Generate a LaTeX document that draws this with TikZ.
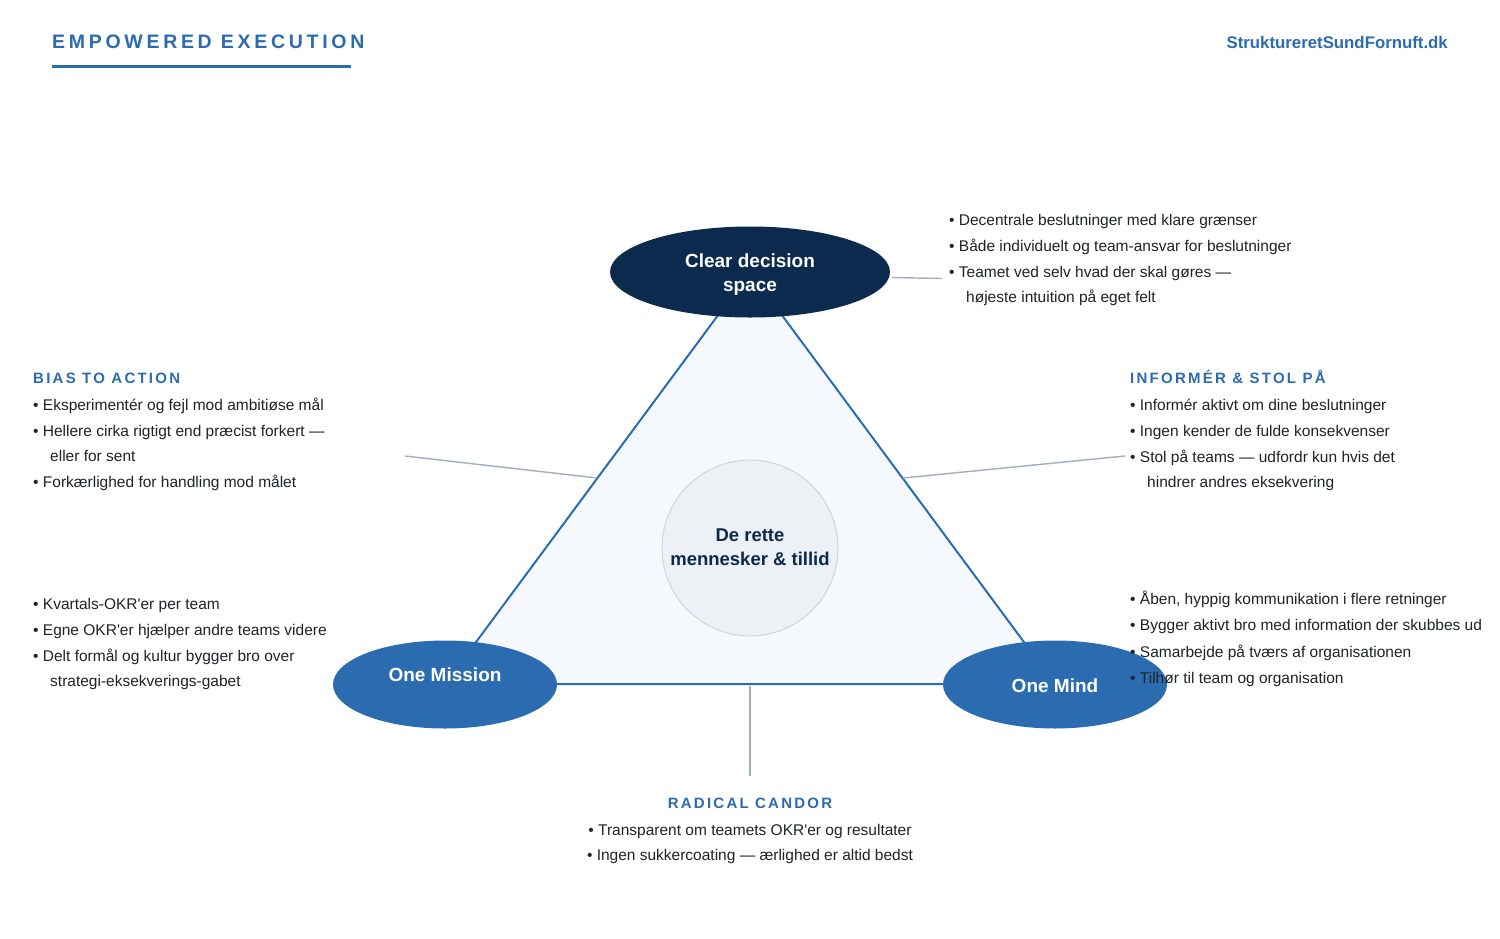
\documentclass[tikz,border=0pt]{standalone}
\usepackage{fontspec}
\setmainfont{Liberation Sans}
\usetikzlibrary{shapes.geometric}
\definecolor{brand}{HTML}{2B6CB0}
\definecolor{navy}{HTML}{0B2A4E}
\definecolor{bodyc}{HTML}{1F2328}
\definecolor{conn}{HTML}{A0AEC0}
\definecolor{trifill}{HTML}{F5F8FC}
\definecolor{circfill}{HTML}{EDF1F6}
\definecolor{circline}{HTML}{CBD5E0}
\tikzset{
  body/.style={font=\fontsize{15.5}{18}\selectfont, text=bodyc, inner sep=0pt, anchor=base west},
  bodyc/.style={font=\fontsize{15.5}{18}\selectfont, text=bodyc, inner sep=0pt, anchor=base},
  hdr/.style={font=\fontsize{15}{18}\selectfont\bfseries\addfontfeature{LetterSpace=15}, text=brand, inner sep=0pt, anchor=base west},
  connector/.style={draw=conn, line width=1.4pt},
  oval/.style={ellipse, inner sep=0pt},
  ovaltext/.style={font=\fontsize{19}{24}\selectfont\bfseries, text=white, align=center, inner sep=0pt},
}
\newcommand{\sq}{\textquotesingle}
\begin{document}
\begin{tikzpicture}[x=1pt,y=-1pt]
\useasboundingbox[fill=white] (0,0) rectangle (1500,938);

% header
\node[font=\fontsize{19.5}{22}\selectfont\bfseries\addfontfeature{LetterSpace=19}, text=brand, inner sep=0pt, anchor=base west] (title) at (52,48) {EMPOWERED EXECUTION};
\coordinate (ulA) at (52,66);
\coordinate (ulB) at (351,66);
\draw[brand, line width=3pt] (ulA) -- (ulB);
\node[font=\fontsize{16.8}{20}\selectfont\bfseries, text=brand, inner sep=0pt, anchor=base east] (site) at (1448,48.5) {StruktureretSundFornuft.dk};

% triangle
\coordinate (tA) at (750,272);
\coordinate (tB) at (445,684);
\coordinate (tC) at (1055,684);
\draw[brand, line width=2pt, fill=trifill, line join=round] (tA) -- (tB) -- (tC) -- cycle;

% connectors
\coordinate (k1a) at (892,277.5);
\coordinate (k1b) at (942,278.5);
\coordinate (k2a) at (405,456);
\coordinate (k2b) at (597,478);
\coordinate (k3a) at (903,478);
\coordinate (k3b) at (1125,456);
\coordinate (k4a) at (750,686);
\coordinate (k4b) at (750,776);
\draw[connector] (k1a) -- (k1b);
\draw[connector] (k2a) -- (k2b);
\draw[connector] (k3a) -- (k3b);
\draw[connector] (k4a) -- (k4b);

% ellipses
\node[oval, fill=navy, minimum width=280, minimum height=91] (decision) at (750,272) {};
\node[ovaltext] (decisionlbl) at (750,274.5) {Clear decision\\space};
\node[oval, fill=brand, minimum width=224, minimum height=88] (mission) at (445,684.5) {};
\node[ovaltext] (missionlbl) at (445,675) {One Mission};
\node[oval, fill=brand, minimum width=224, minimum height=88] (mind) at (1055,684.5) {};
\node[ovaltext] (mindlbl) at (1055,686) {One Mind};

% centre
\node[circle, fill=circfill, draw=circline, line width=1pt, minimum size=176, inner sep=0pt] (core) at (750,548) {};
\node[font=\fontsize{18.5}{24}\selectfont\bfseries, text=navy, align=center, inner sep=0pt] (corelbl) at (750,547) {De rette\\mennesker \& tillid};

% top right block
\node[body] (d1) at (949,225) {• Decentrale beslutninger med klare grænser};
\node[body] (d2) at (949,251) {• Både individuelt og team-ansvar for beslutninger};
\node[body] (d3) at (949,277) {• Teamet ved selv hvad der skal gøres —};
\node[body] (d4) at (966,302) {højeste intuition på eget felt};

% bias to action
\node[hdr] (bh) at (33,383) {BIAS TO ACTION};
\node[body] (b1) at (33,410) {• Eksperimentér og fejl mod ambitiøse mål};
\node[body] (b2) at (33,436) {• Hellere cirka rigtigt end præcist forkert —};
\node[body] (b3) at (50,461) {eller for sent};
\node[body] (b4) at (33,487) {• Forkærlighed for handling mod målet};

% informer
\node[hdr] (ih) at (1130,383) {INFORMÉR \& STOL PÅ};
\node[body] (i1) at (1130,410) {• Informér aktivt om dine beslutninger};
\node[body] (i2) at (1130,436) {• Ingen kender de fulde konsekvenser};
\node[body] (i3) at (1130,462) {• Stol på teams — udfordr kun hvis det};
\node[body] (i4) at (1147,487) {hindrer andres eksekvering};

% one mission
\node[body] (m1) at (33,609) {• Kvartals-OKR\sq er per team};
\node[body] (m2) at (33,635) {• Egne OKR\sq er hjælper andre teams videre};
\node[body] (m3) at (33,661) {• Delt formål og kultur bygger bro over};
\node[body] (m4) at (50,686) {strategi-eksekverings-gabet};

% one mind
\node[body] (o1) at (1130,604) {• Åben, hyppig kommunikation i flere retninger};
\node[body] (o2) at (1130,630) {• Bygger aktivt bro med information der skubbes ud};
\node[body] (o3) at (1130,657) {• Samarbejde på tværs af organisationen};
\node[body] (o4) at (1130,683) {• Tilhør til team og organisation};

% radical candor
\node[hdr, anchor=base] (rh) at (750,808) {RADICAL CANDOR};
\node[bodyc] (r1) at (750,835) {• Transparent om teamets OKR\sq er og resultater};
\node[bodyc] (r2) at (750,860) {• Ingen sukkercoating — ærlighed er altid bedst};
\end{tikzpicture}
\end{document}
